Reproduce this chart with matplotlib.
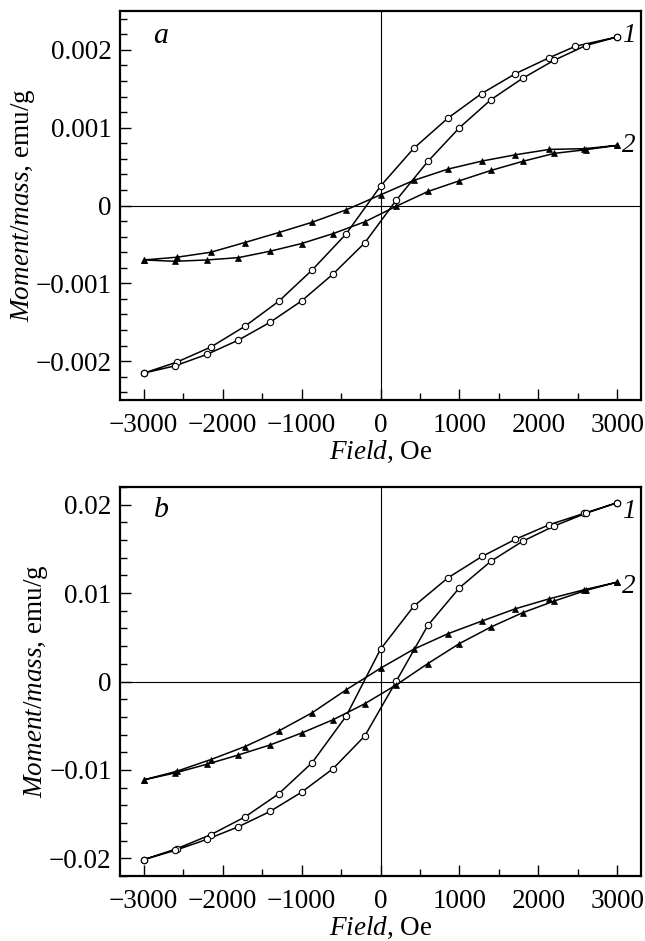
import matplotlib
matplotlib.use("Agg")
import matplotlib.pyplot as plt
from matplotlib.ticker import FixedLocator, MultipleLocator

# ---------------- data ----------------
# field values: descending branch (3000 -> -3000) then ascending branch (-3000 -> 3000)
field_down = [3000, 2580, 2140, 1710, 1285, 855, 420, 0, -435, -865, -1290, -1720, -2150, -2580, -3000]
field_down_a1 = [3000, 2470, 2140, 1710, 1280, 855, 420, 0, -435, -865, -1290, -1720, -2150, -2580, -3000]
field_up = [-3000, -2600, -2200, -1800, -1400, -1000, -600, -200, 200, 600, 1000, 1400, 1800, 2200, 2600, 3000]

# panel a, curve 1 (open circles), emu/g
a1_down = [0.002167, 0.002047, 0.001901, 0.001695, 0.001438, 0.001124, 0.000734, 0.000249,
           -0.000365, -0.000828, -0.001232, -0.001554, -0.001820, -0.002013, -0.002155]
a1_up = [-0.002155, -0.002060, -0.001914, -0.001730, -0.001502, -0.001227, -0.000880, -0.000481,
         0.000069, 0.000567, 0.001000, 0.001361, 0.001635, 0.001867, 0.002056, 0.002167]
# panel a, curve 2 (filled triangles)
a2_down = [0.000773, 0.000730, 0.000721, 0.000652, 0.000571, 0.000468, 0.000322, 0.000137,
           -0.000056, -0.000215, -0.000348, -0.000476, -0.000601, -0.000665, -0.000700]
a2_up = [-0.000700, -0.000717, -0.000700, -0.000670, -0.000588, -0.000489, -0.000361, -0.000210,
         -0.000009, 0.000180, 0.000318, 0.000451, 0.000567, 0.000670, 0.000717, 0.000773]

# panel b, curve 1 (open circles)
b1_down = [0.02023, 0.01902, 0.01774, 0.01609, 0.01414, 0.01173, 0.00850, 0.00365,
           -0.00391, -0.00917, -0.01271, -0.01534, -0.01733, -0.01891, -0.02015]
b1_up = [-0.02015, -0.01910, -0.01786, -0.01643, -0.01470, -0.01252, -0.00985, -0.00617,
         0.00004, 0.00635, 0.01060, 0.01361, 0.01586, 0.01759, 0.01902, 0.02023]
# panel b, curve 2 (filled triangles)
b2_down = [0.01124, 0.01038, 0.00936, 0.00823, 0.00684, 0.00541, 0.00365, 0.00150,
           -0.00094, -0.00353, -0.00560, -0.00737, -0.00883, -0.01015, -0.01113]
b2_up = [-0.01113, -0.01034, -0.00936, -0.00831, -0.00718, -0.00583, -0.00432, -0.00252,
         -0.00038, 0.00203, 0.00429, 0.00617, 0.00778, 0.00910, 0.01030, 0.01124]

x_ticks = [-3000, -2000, -1000, 0, 1000, 2000, 3000]
x_ticklabels = ["\u22123000", "\u22122000", "\u22121000", "0", "1000", "2000", "3000"]
ya_ticks = [-0.002, -0.001, 0, 0.001, 0.002]
ya_ticklabels = ["\u22120.002", "\u22120.001", "0", "0.001", "0.002"]
yb_ticks = [-0.02, -0.01, 0, 0.01, 0.02]
yb_ticklabels = ["\u22120.02", "\u22120.01", "0", "0.01", "0.02"]
panel_letters = ["a", "b"]
curve_labels = ["1", "2"]

# ---------------- style ----------------
plt.rcParams['font.family'] = ['Liberation Serif', 'DejaVu Serif']
plt.rcParams['mathtext.fontset'] = 'custom'
plt.rcParams['mathtext.rm'] = 'Liberation Serif'
plt.rcParams['mathtext.it'] = 'Liberation Serif:italic'
FS = 19.5

fig = plt.figure(figsize=(6.45, 9.41), dpi=100)
L, R = 120 / 645, 641 / 645
axa = fig.add_axes([L, 1 - 400 / 941, R - L, 389 / 941])
axb = fig.add_axes([L, 1 - 876 / 941, R - L, 389 / 941])


def draw(ax, c1_down, c1_up, fd1, c2_down, c2_up, ylim, yticks, yticklabels, yminor,
         letter, letter_y, lab1_y, lab2_y):
    ax.axhline(0, color='black', lw=0.8, zorder=1)
    ax.axvline(0, color='black', lw=0.8, zorder=1)
    ax.plot(list(fd1) + field_up, list(c1_down) + list(c1_up), '-', color='black', lw=1.1,
            marker='o', ms=4.6, mfc='white', mec='black', mew=0.8, zorder=3)
    ax.plot(field_down + field_up, list(c2_down) + list(c2_up), '-', color='black', lw=1.1,
            marker='^', ms=5.0, mfc='black', mec='black', mew=0.5, zorder=3)
    ax.set_xlim(-3300, 3300)
    ax.set_ylim(*ylim)
    ax.xaxis.set_major_locator(FixedLocator(x_ticks))
    ax.set_xticklabels(x_ticklabels)
    ax.xaxis.set_minor_locator(MultipleLocator(500))
    ax.yaxis.set_major_locator(FixedLocator(yticks))
    ax.set_yticklabels(yticklabels)
    ax.yaxis.set_minor_locator(MultipleLocator(yminor))
    ax.tick_params(which='both', direction='in', top=False, right=False, labelsize=FS,
                   width=1.0)
    ax.tick_params(axis='x', which='major', pad=9)
    ax.tick_params(axis='y', which='major', pad=6)
    ax.tick_params(which='major', length=8)
    ax.tick_params(which='minor', length=5)
    for s in ax.spines.values():
        s.set_linewidth(1.6)
    ax.set_xlabel(r'$\mathit{Field}$, Oe', fontsize=FS, labelpad=1)
    ax.set_ylabel(r'$\mathit{Moment/mass}$, emu/g', fontsize=FS, labelpad=-1)
    ax.text(-2780, letter_y, letter, fontsize=FS + 2, style='italic', ha='center', va='center')
    ax.text(3150, lab1_y, curve_labels[0], fontsize=FS, style='italic', ha='center', va='center')
    ax.text(3150, lab2_y, curve_labels[1], fontsize=FS, style='italic', ha='center', va='center')


draw(axa, a1_down, a1_up, field_down_a1, a2_down, a2_up, (-0.0025, 0.0025), ya_ticks, ya_ticklabels,
     0.0002, panel_letters[0], 0.00218, 0.00218, 0.00077)
draw(axb, b1_down, b1_up, field_down, b2_down, b2_up, (-0.022, 0.022), yb_ticks, yb_ticklabels,
     0.002, panel_letters[1], 0.0194, 0.0192, 0.0107)

fig.savefig('out.png', dpi=100)
